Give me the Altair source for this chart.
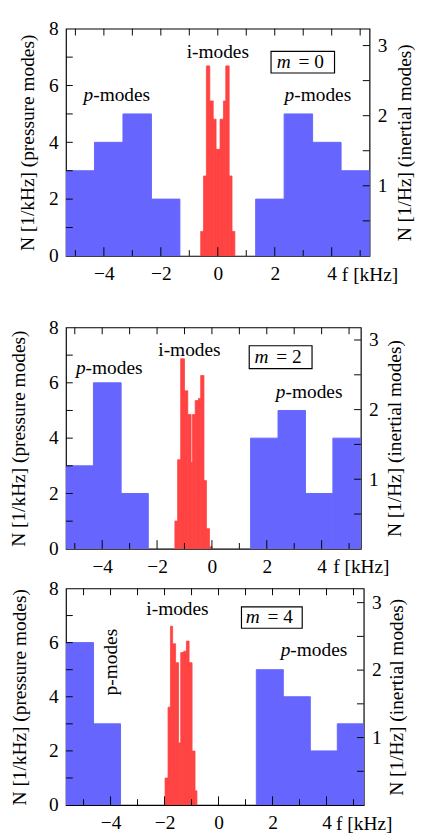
import altair as alt
import pandas as pd

FONT = "Liberation Serif"
BLUE = "#6666ff"
RED = "#ff4343"
FS = 20

# ---------------- data ----------------
# pressure modes: histogram bin edges [kHz] and counts [1/kHz]
p1_left_edges = [-5.33, -4.33, -3.33, -2.33, -1.33]
p1_left_counts = [3, 4, 5, 2]
p1_right_edges = [1.33, 2.33, 3.33, 4.33, 5.33]
p1_right_counts = [2, 5, 4, 3]

p2_left_edges = [-5.32, -4.32, -3.31, -2.32]
p2_left_counts = [3, 6, 2]
p2_right_edges = [1.41, 2.41, 3.41, 4.41, 5.43]
p2_right_counts = [4, 5, 2, 4]

p3_left_edges = [-5.65, -4.63, -3.63]
p3_left_counts = [6, 3]
p3_right_edges = [1.40, 2.40, 3.40, 4.40, 5.40]
p3_right_counts = [5, 4, 2, 3]

# inertial modes: bin edges [kHz] and density [1/Hz]
i1_edges = [-0.60, -0.50, -0.40, -0.28, -0.16, -0.06, 0.08, 0.20, 0.28, 0.40, 0.50, 0.60]
i1_vals = [0.35, 1.14, 2.71, 2.21, 1.95, 1.52, 1.95, 2.21, 2.71, 1.14, 0.35]

i2_edges = [-1.35, -1.25, -1.14, -1.00, -0.88, -0.76, -0.71, -0.61, -0.49, -0.41, -0.29, -0.20, -0.09, 0.0]
i2_vals = [0.40, 1.28, 2.73, 2.27, 1.93, 1.24, 1.93, 2.13, 2.16, 2.49, 0.98, 0.29, 0.03]

i3_edges = [-1.98, -1.87, -1.78, -1.70, -1.59, -1.48, -1.40, -1.29, -1.19, -1.09, -0.98, -0.87, -0.80]
i3_vals = [0.40, 1.45, 2.65, 2.39, 2.11, 0.92, 2.26, 2.28, 2.43, 2.11, 0.80, 0.21]

# axis ticks
x_major = [-4, -2, 0, 2, 4]
x_minor = [-5, -3, -1, 1, 3, 5]
x_all = [-5, -4, -3, -2, -1, 0, 1, 2, 3, 4, 5]
yl_labels = [0, 2, 4, 6, 8]
yl_ticks = [1, 2, 3, 4, 5, 6, 7]
yr_labels = [1, 2, 3]
yr_ticks = [0.5, 1, 1.5, 2, 2.5, 3]

# panel labels and annotation anchors (kHz, 1/kHz)
m_values = ["0", "2", "4"]
imodes_pos = [(0.0, 7.16), (-0.82, 7.18), (-1.52, 7.23)]
pleft_pos = [(-3.56, 5.65), (-3.76, 6.51), (-3.98, 5.28)]
pright_pos = [(3.50, 5.65), (3.53, 5.67), (3.52, 5.71)]
box_pos = [(1.87, 4.10, 6.44, 7.20), (1.36, 3.65, 6.51, 7.34), (0.85, 3.10, 6.53, 7.32)]

# panel geometry
panel_w = [314, 305, 308]
panel_h = [235, 229, 224]
x_domains = [[-5.33, 5.33], [-5.32, 5.43], [-5.65, 5.38]]
yr_domains = [[0, 3.24], [0, 3.18], [0, 3.21]]
left_title_pad = [12, 21.4, 19.4]
right_title_pad = [8, 7.3, 6.4]
extra_top = [0, 32, 0]


def bins(edges, vals):
    return pd.DataFrame({"x0": edges[:-1], "x1": edges[1:], "n": vals})


def panel(k, pl, pr, ir, vertical_left=False):
    W, H = panel_w[k], panel_h[k]
    xd, yrd = x_domains[k], yr_domains[k]
    xs = alt.Scale(domain=xd, nice=False, zero=False)
    yl = alt.Scale(domain=[0, 8], nice=False, zero=False)
    yr = alt.Scale(domain=yrd, nice=False, zero=False)
    xaxis = alt.Axis(values=x_major, title="f [kHz]", titleX=W, titleY=19,
                     titleAlign="center", titleBaseline="middle", labelPadding=8)
    kx = (xd[1] - xd[0]) / W      # kHz per pixel
    ky = 8.0 / H                  # left units per pixel
    kr = (yrd[1] - yrd[0]) / H    # right units per pixel

    def X(field):
        return alt.X(field, scale=xs, axis=xaxis)

    pdata = pd.concat([bins(*pl), bins(*pr)], ignore_index=True)
    blue = alt.Chart(pdata).mark_rect(color=BLUE, stroke=BLUE, strokeWidth=1, clip=True).encode(
        x=X("x0:Q"),
        x2="x1:Q",
        y=alt.Y("n:Q", scale=yl, axis=alt.Axis(
            orient="left", values=yl_labels, title="N [1/kHz] (pressure modes)",
            titlePadding=left_title_pad[k], labelPadding=8)),
        y2=alt.datum(0),
    )
    red = alt.Chart(bins(*ir)).mark_rect(color=RED, stroke=RED, strokeWidth=0.8, clip=True).encode(
        x=X("x0:Q"),
        x2="x1:Q",
        y=alt.Y("n:Q", scale=yr, axis=alt.Axis(
            orient="right", values=yr_labels, title="N [1/Hz] (inertial modes)",
            titleAngle=270, titleBaseline="top", titlePadding=right_title_pad[k], labelPadding=8)),
        y2=alt.datum(0),
    )

    # inward ticks drawn as rules through the scales
    def xt(vals, a, b):
        d = pd.DataFrame({"t": vals, "a": a, "b": b})
        return alt.Chart(d).mark_rule(color="black", strokeWidth=1).encode(
            x=X("t:Q"), y=alt.Y("a:Q", scale=yl, axis=None), y2="b:Q")

    bot_major = xt(x_major, 0.0, 9 * ky)
    bot_minor = xt(x_minor, 0.0, 6 * ky)
    top_t = xt(x_all, 8.0, 8.0 - 7 * ky)

    dl = pd.DataFrame({"t": yl_ticks, "a": xd[0], "b": xd[0] + 7 * kx})
    left_t = alt.Chart(dl).mark_rule(color="black", strokeWidth=1).encode(
        y=alt.Y("t:Q", scale=yl, axis=None), x=X("a:Q"), x2="b:Q")
    dr = pd.DataFrame({"t": yr_ticks, "a": xd[1] - 7 * kx, "b": xd[1]})
    right_t = alt.Chart(dr).mark_rule(color="black", strokeWidth=1).encode(
        y=alt.Y("t:Q", scale=yr, axis=None), x=X("a:Q"), x2="b:Q")

    bx = box_pos[k]
    box_df = pd.DataFrame({"a": [bx[0]], "b": [bx[1]], "c": [bx[2]], "d": [bx[3]],
                           "cx": [(bx[0] + bx[1]) / 2], "cy": [(bx[2] + bx[3]) / 2]})
    box = alt.Chart(box_df).mark_rect(fill="white", stroke="black", strokeWidth=1.2).encode(
        x=X("a:Q"), x2="b:Q",
        y=alt.Y("c:Q", scale=yl, axis=None), y2="d:Q")
    m_it = alt.Chart(box_df).mark_text(text="m", font=FONT, fontSize=FS, fontStyle="italic",
                                       align="right", baseline="middle", dx=-12.5).encode(
        x=X("cx:Q"), y=alt.Y("cy:Q", scale=yl, axis=None))
    m_rest = alt.Chart(box_df).mark_text(text="=  " + m_values[k], font=FONT, fontSize=FS,
                                         align="left", baseline="middle", dx=-4.5).encode(
        x=X("cx:Q"), y=alt.Y("cy:Q", scale=yl, axis=None))

    def txt(pos, s, **kw):
        d = pd.DataFrame({"x": [pos[0]], "y": [pos[1]]})
        return alt.Chart(d).mark_text(text=s, font=FONT, fontSize=FS, baseline="middle", **kw).encode(
            x=X("x:Q"), y=alt.Y("y:Q", scale=yl, axis=None))

    layers = [blue, red, bot_major, bot_minor, top_t, left_t, right_t, box, m_it, m_rest,
              txt(imodes_pos[k], "i-modes", align="center")]
    if vertical_left:
        layers.append(txt(pleft_pos[k], "p-modes", align="center", angle=270))
    else:
        layers.append(txt(pleft_pos[k], "p", align="right", dx=-24, fontStyle="italic"))
        layers.append(txt(pleft_pos[k], "-modes", align="left", dx=-24))
    layers.append(txt(pright_pos[k], "p", align="right", dx=-24, fontStyle="italic"))
    layers.append(txt(pright_pos[k], "-modes", align="left", dx=-24))

    props = dict(width=W, height=H)
    if extra_top[k]:
        props["title"] = alt.TitleParams(text=" ", fontSize=1, offset=extra_top[k])
    return alt.layer(*layers).resolve_scale(y="independent").properties(**props)


c1 = panel(0, (p1_left_edges, p1_left_counts), (p1_right_edges, p1_right_counts), (i1_edges, i1_vals))
c2 = panel(1, (p2_left_edges, p2_left_counts), (p2_right_edges, p2_right_counts), (i2_edges, i2_vals))
c3 = panel(2, (p3_left_edges, p3_left_counts), (p3_right_edges, p3_right_counts), (i3_edges, i3_vals),
           vertical_left=True)

chart = alt.concat(c1, c2, c3, columns=1, align="none", spacing=0).properties(
    padding={"left": 0, "top": -4, "right": 0, "bottom": 0}
).configure_view(stroke="black", strokeWidth=1.2).configure_axis(
    domain=False, ticks=False, tickSize=0, grid=False,
    labelFont=FONT, labelFontSize=FS, labelColor="black",
    titleFont=FONT, titleFontSize=FS, titleFontWeight="normal", titleColor="black",
)

chart.save("out.html", embed_options={"renderer": "svg", "actions": False})
